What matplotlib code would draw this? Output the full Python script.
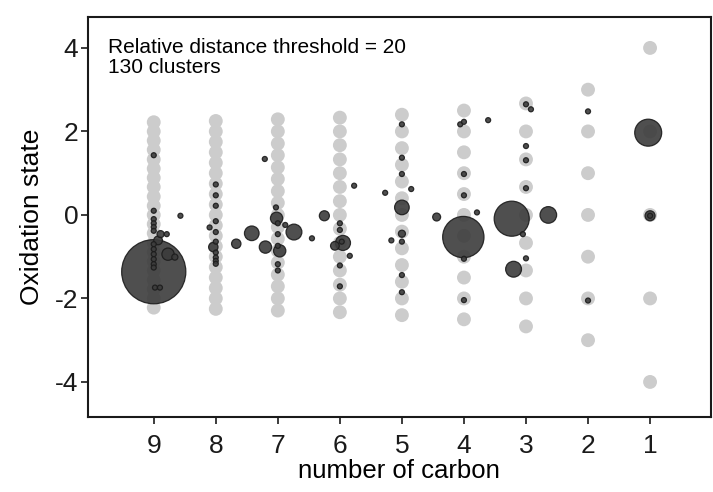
import matplotlib
matplotlib.use("Agg")
import matplotlib.pyplot as plt

plt.rcParams['font.family'] = ['Liberation Sans', 'DejaVu Sans']

# possible average oxidation states for each carbon number (gray background grid)
grid_c = [9, 8, 7, 6, 5, 4, 3, 2, 1]
grid_os = [
    [2.22, 2.0, 1.78, 1.56, 1.33, 1.11, 0.89, 0.67, 0.44, 0.22, 0.0,
     -0.22, -0.44, -0.67, -0.89, -1.11, -1.33, -1.56, -1.78, -2.0, -2.22],
    [2.25, 2.0, 1.75, 1.5, 1.25, 1.0, 0.75, 0.5, 0.25, 0.0,
     -0.25, -0.5, -0.75, -1.0, -1.25, -1.5, -1.75, -2.0, -2.25],
    [2.29, 2.0, 1.71, 1.43, 1.14, 0.86, 0.57, 0.29, 0.0,
     -0.29, -0.57, -0.86, -1.14, -1.43, -1.71, -2.0, -2.29],
    [2.33, 2.0, 1.67, 1.33, 1.0, 0.67, 0.33, 0.0,
     -0.33, -0.67, -1.0, -1.33, -1.67, -2.0, -2.33],
    [2.4, 2.0, 1.6, 1.2, 0.8, 0.4, 0.0, -0.4, -0.8, -1.2, -1.6, -2.0, -2.4],
    [2.5, 2.0, 1.5, 1.0, 0.5, 0.0, -0.5, -1.0, -1.5, -2.0, -2.5],
    [2.67, 2.0, 1.33, 0.67, 0.0, -0.67, -1.33, -2.0, -2.67],
    [3.0, 2.0, 1.0, 0.0, -1.0, -2.0, -3.0],
    [4.0, 2.0, 0.0, -2.0, -4.0],
]

# cluster centroids: carbon number, oxidation state, relative cluster size
clu_c = [
    9.0, 9.0, 9.0, 9.0, 9.0, 9.0, 8.89, 8.79, 8.93, 9.0, 9.0, 9.0, 9.0, 9.0, 9.0,
    8.77, 8.66, 8.57, 8.98, 8.90, 9.0,
    8.0, 8.0, 8.0, 8.0, 8.0, 8.10, 8.04, 8.0, 8.0, 8.0, 8.0, 8.0,
    7.67, 7.42, 7.20, 7.21,
    7.03, 7.02, 7.0, 6.88, 7.0, 7.0, 6.97, 7.0, 7.0, 6.74, 6.45,
    6.25, 5.77, 6.0, 6.0, 5.95, 5.97, 6.08, 5.84, 6.0, 6.0,
    5.0, 5.0, 5.0, 5.27, 4.85, 5.0, 5.0, 5.0, 5.17, 5.0, 5.0,
    4.06, 4.0, 3.61, 4.0, 4.0, 4.44, 3.79, 4.01, 4.0, 4.0,
    3.0, 2.92, 3.0, 3.0, 3.0, 3.23, 3.05, 2.64, 3.0, 3.20,
    2.0, 2.0,
    1.03, 1.0, 1.0,
]
clu_os = [
    1.43, 0.10, -0.10, -0.20, -0.29, -0.38, -0.46, -0.46, -0.61, -0.70, -0.82, -0.94, -1.06, -1.18, -1.26,
    -0.94, -1.01, -0.02, -1.74, -1.74, -1.36,
    0.73, 0.47, 0.22, -0.15, -0.41, -0.30, -0.77, -0.64, -0.90, -1.02, -1.10, -1.17,
    -0.69, -0.44, -0.77, 1.34,
    0.18, -0.08, -0.20, -0.24, -0.46, -0.74, -0.86, -1.18, -1.33, -0.41, -0.56,
    -0.02, 0.70, -0.20, -0.36, -0.67, -0.64, -0.74, -0.98, -1.21, -1.71,
    2.17, 1.37, 0.98, 0.53, 0.62, 0.18, -0.45, -0.64, -0.61, -1.44, -1.85,
    2.17, 2.23, 2.27, 0.98, 0.47, -0.05, 0.06, -0.53, -1.05, -2.04,
    2.65, 2.53, 1.65, 1.31, 0.64, -0.09, -0.46, 0.0, -1.04, -1.30,
    2.48, -2.05,
    1.97, -0.02, -0.02,
]
clu_n = [
    1, 1, 1, 1, 1, 1, 2, 1, 3, 1, 1, 1, 1, 1, 1,
    6, 1.5, 1, 1, 1, 164,
    1, 1, 1, 1, 1, 1, 3.5, 1, 1, 1, 1, 1,
    3.5, 8.5, 6, 1,
    1, 6, 1, 1, 1, 1, 6, 1, 1, 10, 1,
    4, 1, 1, 1, 9, 1, 3, 1, 1, 1,
    1, 1, 1, 1, 1, 8.5, 2, 1, 1, 1, 1,
    1, 1, 1, 1, 1, 2.5, 1, 68, 1, 1,
    1, 1, 1, 1, 1, 49, 1, 11, 1, 10,
    1, 1,
    29, 4, 1,
]

fig, ax = plt.subplots(figsize=(7.13, 4.92), dpi=100)
fig.subplots_adjust(left=0.1234, right=0.997, bottom=0.1524, top=0.9654)

for c, os_vals in zip(grid_c, grid_os):
    ax.scatter([c] * len(os_vals), os_vals, s=100, color='#cccccc', edgecolors='none', zorder=1)

# draw large clusters first so the small ones stay visible on top
order = sorted(range(len(clu_n)), key=lambda i: -clu_n[i])
ax.scatter([clu_c[i] for i in order], [clu_os[i] for i in order],
           s=[13 * clu_n[i] for i in order], facecolor='#3c3c3c', edgecolor='#1c1c1c',
           linewidth=0.9, alpha=0.9, zorder=2)

ax.set_xlim(10.06, 0.02)
ax.set_ylim(-4.84, 4.74)
ax.set_xticks(grid_c)
ax.set_yticks([4, 2, 0, -2, -4])
ax.set_yticklabels(['4', '2', '0', '-2', '-4'])
ax.tick_params(direction='out', length=5, width=1.2, labelsize=19, colors='#1a1a1a')
ax.tick_params(axis='x', pad=7)
ax.tick_params(axis='y', pad=2)
for sp in ax.spines.values():
    sp.set_linewidth(1.5)
    sp.set_color('#1a1a1a')

ax.set_xlabel('number of carbon', fontsize=18.5, labelpad=1)
ax.set_ylabel('Oxidation state', fontsize=19, labelpad=8)

ax.text(0.032, 0.948, 'Relative distance threshold = 20\n130 clusters',
        transform=ax.transAxes, fontsize=15, va='top', ha='left', linespacing=1.08)

fig.savefig('out.png', dpi=100)
